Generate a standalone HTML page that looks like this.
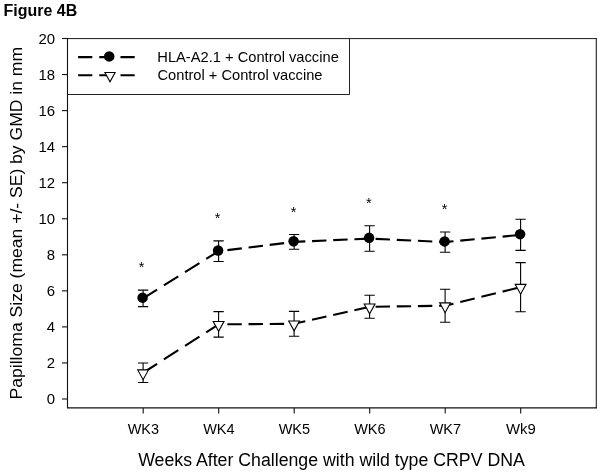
<!DOCTYPE html>
<html><head><meta charset="utf-8"><title>Figure 4B</title>
<style>
html,body{margin:0;padding:0;background:#fff;}
body{width:601px;height:474px;overflow:hidden;font-family:"Liberation Sans",sans-serif;}
svg{display:block;will-change:transform;}
</style></head><body>
<svg width="601" height="474" viewBox="0 0 601 474" font-family="'Liberation Sans', sans-serif" fill="#000">
<rect x="0" y="0" width="601" height="474" fill="#fff"/>
<text x="3.60" y="15.50" font-size="15.60px" font-weight="bold" text-anchor="start" textLength="73.60" lengthAdjust="spacingAndGlyphs" >Figure 4B</text>
<path d="M67.50 38.60 H596.50" fill="none" stroke="#1a1a1a" stroke-width="1"/>
<path d="M596.30 38.10 V407.90" fill="none" stroke="#222" stroke-width="1.1"/>
<path d="M67.50 38.00 V407.90 H597.00" fill="none" stroke="#111" stroke-width="1.1"/>
<path d="M62.00 399.00 H67.50" stroke="#111" stroke-width="1.1"/>
<text x="55.00" y="404.40" font-size="14.30px" font-weight="normal" text-anchor="end" textLength="8.30" lengthAdjust="spacingAndGlyphs" >0</text>
<path d="M62.00 362.95 H67.50" stroke="#111" stroke-width="1.1"/>
<text x="55.00" y="368.35" font-size="14.30px" font-weight="normal" text-anchor="end" textLength="8.30" lengthAdjust="spacingAndGlyphs" >2</text>
<path d="M62.00 326.90 H67.50" stroke="#111" stroke-width="1.1"/>
<text x="55.00" y="332.30" font-size="14.30px" font-weight="normal" text-anchor="end" textLength="8.30" lengthAdjust="spacingAndGlyphs" >4</text>
<path d="M62.00 290.85 H67.50" stroke="#111" stroke-width="1.1"/>
<text x="55.00" y="296.25" font-size="14.30px" font-weight="normal" text-anchor="end" textLength="8.30" lengthAdjust="spacingAndGlyphs" >6</text>
<path d="M62.00 254.80 H67.50" stroke="#111" stroke-width="1.1"/>
<text x="55.00" y="260.20" font-size="14.30px" font-weight="normal" text-anchor="end" textLength="8.30" lengthAdjust="spacingAndGlyphs" >8</text>
<path d="M62.00 218.75 H67.50" stroke="#111" stroke-width="1.1"/>
<text x="55.00" y="224.15" font-size="14.30px" font-weight="normal" text-anchor="end" textLength="16.60" lengthAdjust="spacingAndGlyphs" >10</text>
<path d="M62.00 182.70 H67.50" stroke="#111" stroke-width="1.1"/>
<text x="55.00" y="188.10" font-size="14.30px" font-weight="normal" text-anchor="end" textLength="16.60" lengthAdjust="spacingAndGlyphs" >12</text>
<path d="M62.00 146.65 H67.50" stroke="#111" stroke-width="1.1"/>
<text x="55.00" y="152.05" font-size="14.30px" font-weight="normal" text-anchor="end" textLength="16.60" lengthAdjust="spacingAndGlyphs" >14</text>
<path d="M62.00 110.60 H67.50" stroke="#111" stroke-width="1.1"/>
<text x="55.00" y="116.00" font-size="14.30px" font-weight="normal" text-anchor="end" textLength="16.60" lengthAdjust="spacingAndGlyphs" >16</text>
<path d="M62.00 74.55 H67.50" stroke="#111" stroke-width="1.1"/>
<text x="55.00" y="79.95" font-size="14.30px" font-weight="normal" text-anchor="end" textLength="16.60" lengthAdjust="spacingAndGlyphs" >18</text>
<path d="M62.00 38.50 H67.50" stroke="#111" stroke-width="1.1"/>
<text x="55.00" y="43.90" font-size="14.30px" font-weight="normal" text-anchor="end" textLength="16.60" lengthAdjust="spacingAndGlyphs" >20</text>
<path d="M143.20 407.90 V413.40" stroke="#111" stroke-width="1.1"/>
<text x="143.40" y="433.70" font-size="14.30px" font-weight="normal" text-anchor="middle" textLength="31.40" lengthAdjust="spacingAndGlyphs" >WK3</text>
<path d="M218.70 407.90 V413.40" stroke="#111" stroke-width="1.1"/>
<text x="218.90" y="433.70" font-size="14.30px" font-weight="normal" text-anchor="middle" textLength="31.40" lengthAdjust="spacingAndGlyphs" >WK4</text>
<path d="M294.20 407.90 V413.40" stroke="#111" stroke-width="1.1"/>
<text x="294.40" y="433.70" font-size="14.30px" font-weight="normal" text-anchor="middle" textLength="31.40" lengthAdjust="spacingAndGlyphs" >WK5</text>
<path d="M369.70 407.90 V413.40" stroke="#111" stroke-width="1.1"/>
<text x="369.90" y="433.70" font-size="14.30px" font-weight="normal" text-anchor="middle" textLength="31.40" lengthAdjust="spacingAndGlyphs" >WK6</text>
<path d="M445.20 407.90 V413.40" stroke="#111" stroke-width="1.1"/>
<text x="445.40" y="433.70" font-size="14.30px" font-weight="normal" text-anchor="middle" textLength="31.40" lengthAdjust="spacingAndGlyphs" >WK7</text>
<path d="M520.70 407.90 V413.40" stroke="#111" stroke-width="1.1"/>
<text x="520.90" y="433.70" font-size="14.30px" font-weight="normal" text-anchor="middle" textLength="29.80" lengthAdjust="spacingAndGlyphs" >Wk9</text>
<text x="138.20" y="465.50" font-size="17.60px" font-weight="normal" text-anchor="start" textLength="386.60" lengthAdjust="spacingAndGlyphs" >Weeks After Challenge with wild type CRPV DNA</text>
<g transform="translate(21.6,399.4) rotate(-90)"><text x="0.00" y="0.00" font-size="17.20px" font-weight="normal" text-anchor="start" textLength="352.50" lengthAdjust="spacingAndGlyphs" >Papilloma Size (mean +/- SE) by GMD in mm</text></g>
<path d="M67.50 94.50 H349.50 V38.50" fill="none" stroke="#222" stroke-width="1"/>
<path d="M78.10 57.10 H92.30 M99.30 57.10 H113.50 M120.50 57.10 H134.70" stroke="#000" stroke-width="2.10" fill="none"/>
<circle cx="109.20" cy="56.40" r="5.25" fill="#000"/>
<path d="M78.10 75.30 H92.30 M99.30 75.30 H113.50 M120.50 75.30 H134.70" stroke="#000" stroke-width="2.10" fill="none"/>
<path d="M104.90 72.50 L115.10 72.50 L110.00 81.80 Z" fill="#fff" stroke="#000" stroke-width="1.1" stroke-linejoin="miter"/>
<text x="157.30" y="61.60" font-size="14.20px" font-weight="normal" text-anchor="start" textLength="181.50" lengthAdjust="spacingAndGlyphs" >HLA-A2.1 + Control vaccine</text>
<text x="157.50" y="79.90" font-size="14.20px" font-weight="normal" text-anchor="start" textLength="165.00" lengthAdjust="spacingAndGlyphs" >Control + Control vaccine</text>
<path d="M143.10 298.35 L157.10 289.61 M163.87 285.38 L178.27 276.39 M185.04 272.16 L199.44 263.17 M206.21 258.94 L218.60 251.20 L220.61 250.95 M227.38 250.12 L241.78 248.34 M248.55 247.51 L262.95 245.74 M269.72 244.90 L284.12 243.13 M290.89 242.30 L294.10 241.90 L305.29 241.40 M312.06 241.10 L326.46 240.46 M333.23 240.16 L347.63 239.52 M354.40 239.22 L368.80 238.59 M375.57 238.83 L389.97 239.51 M396.74 239.83 L411.14 240.50 M417.91 240.82 L432.31 241.50 M439.08 241.82 L445.10 242.10 L453.48 241.30 M460.25 240.65 L474.65 239.26 M481.42 238.61 L495.82 237.23 M502.59 236.58 L516.99 235.20" fill="none" stroke="#000" stroke-width="2.10" stroke-linejoin="round"/>
<path d="M143.10 372.75 L157.10 363.78 M163.87 359.44 L178.27 350.20 M185.04 345.86 L199.44 336.63 M206.21 332.29 L218.60 324.35 L220.61 324.34 M227.38 324.29 L241.78 324.18 M248.55 324.13 L262.95 324.03 M269.72 323.98 L284.12 323.87 M290.89 323.82 L294.10 323.80 L305.29 321.28 M312.06 319.76 L326.46 316.51 M333.23 314.99 L347.63 311.75 M354.40 310.22 L368.80 306.98 M375.57 306.71 L389.97 306.50 M396.74 306.40 L411.14 306.19 M417.91 306.10 L432.31 305.89 M439.08 305.79 L445.10 305.70 L453.48 303.65 M460.25 301.99 L474.65 298.46 M481.42 296.80 L495.82 293.27 M502.59 291.61 L516.99 288.08" fill="none" stroke="#000" stroke-width="2.10" stroke-linejoin="round"/>
<path d="M143.10 290.10 V306.60 M137.95 290.10 H148.25 M137.95 306.60 H148.25" stroke="#000" stroke-width="1.1" fill="none"/>
<path d="M218.60 240.90 V261.50 M213.45 240.90 H223.75 M213.45 261.50 H223.75" stroke="#000" stroke-width="1.1" fill="none"/>
<path d="M294.10 234.50 V249.30 M288.95 234.50 H299.25 M288.95 249.30 H299.25" stroke="#000" stroke-width="1.1" fill="none"/>
<path d="M369.60 225.80 V251.30 M364.45 225.80 H374.75 M364.45 251.30 H374.75" stroke="#000" stroke-width="1.1" fill="none"/>
<path d="M445.10 232.00 V252.20 M439.95 232.00 H450.25 M439.95 252.20 H450.25" stroke="#000" stroke-width="1.1" fill="none"/>
<path d="M520.60 219.30 V250.40 M515.45 219.30 H525.75 M515.45 250.40 H525.75" stroke="#000" stroke-width="1.1" fill="none"/>
<path d="M143.10 363.00 V382.50 M137.95 363.00 H148.25 M137.95 382.50 H148.25" stroke="#000" stroke-width="1.1" fill="none"/>
<path d="M218.60 311.60 V337.10 M213.45 311.60 H223.75 M213.45 337.10 H223.75" stroke="#000" stroke-width="1.1" fill="none"/>
<path d="M294.10 311.40 V336.20 M288.95 311.40 H299.25 M288.95 336.20 H299.25" stroke="#000" stroke-width="1.1" fill="none"/>
<path d="M369.60 295.30 V318.30 M364.45 295.30 H374.75 M364.45 318.30 H374.75" stroke="#000" stroke-width="1.1" fill="none"/>
<path d="M445.10 289.20 V322.20 M439.95 289.20 H450.25 M439.95 322.20 H450.25" stroke="#000" stroke-width="1.1" fill="none"/>
<path d="M520.60 262.60 V311.80 M515.45 262.60 H525.75 M515.45 311.80 H525.75" stroke="#000" stroke-width="1.1" fill="none"/>
<circle cx="142.60" cy="297.65" r="5.25" fill="#000"/>
<circle cx="218.10" cy="250.50" r="5.25" fill="#000"/>
<circle cx="293.60" cy="241.20" r="5.25" fill="#000"/>
<circle cx="369.10" cy="237.85" r="5.25" fill="#000"/>
<circle cx="444.60" cy="241.40" r="5.25" fill="#000"/>
<circle cx="520.10" cy="234.15" r="5.25" fill="#000"/>
<path d="M137.70 369.90 L148.50 369.90 L143.10 379.70 Z" fill="#fff" stroke="#000" stroke-width="1.1" stroke-linejoin="miter"/>
<path d="M213.20 321.50 L224.00 321.50 L218.60 331.30 Z" fill="#fff" stroke="#000" stroke-width="1.1" stroke-linejoin="miter"/>
<path d="M288.70 320.95 L299.50 320.95 L294.10 330.75 Z" fill="#fff" stroke="#000" stroke-width="1.1" stroke-linejoin="miter"/>
<path d="M364.20 303.95 L375.00 303.95 L369.60 313.75 Z" fill="#fff" stroke="#000" stroke-width="1.1" stroke-linejoin="miter"/>
<path d="M439.70 302.85 L450.50 302.85 L445.10 312.65 Z" fill="#fff" stroke="#000" stroke-width="1.1" stroke-linejoin="miter"/>
<path d="M515.20 284.35 L526.00 284.35 L520.60 294.15 Z" fill="#fff" stroke="#000" stroke-width="1.1" stroke-linejoin="miter"/>
<text x="141.60" y="271.70" font-size="14.50px" font-weight="normal" text-anchor="middle" >*</text>
<text x="217.60" y="223.40" font-size="14.50px" font-weight="normal" text-anchor="middle" >*</text>
<text x="293.50" y="217.20" font-size="14.50px" font-weight="normal" text-anchor="middle" >*</text>
<text x="368.80" y="208.40" font-size="14.50px" font-weight="normal" text-anchor="middle" >*</text>
<text x="444.50" y="214.20" font-size="14.50px" font-weight="normal" text-anchor="middle" >*</text>
</svg>
</body></html>
